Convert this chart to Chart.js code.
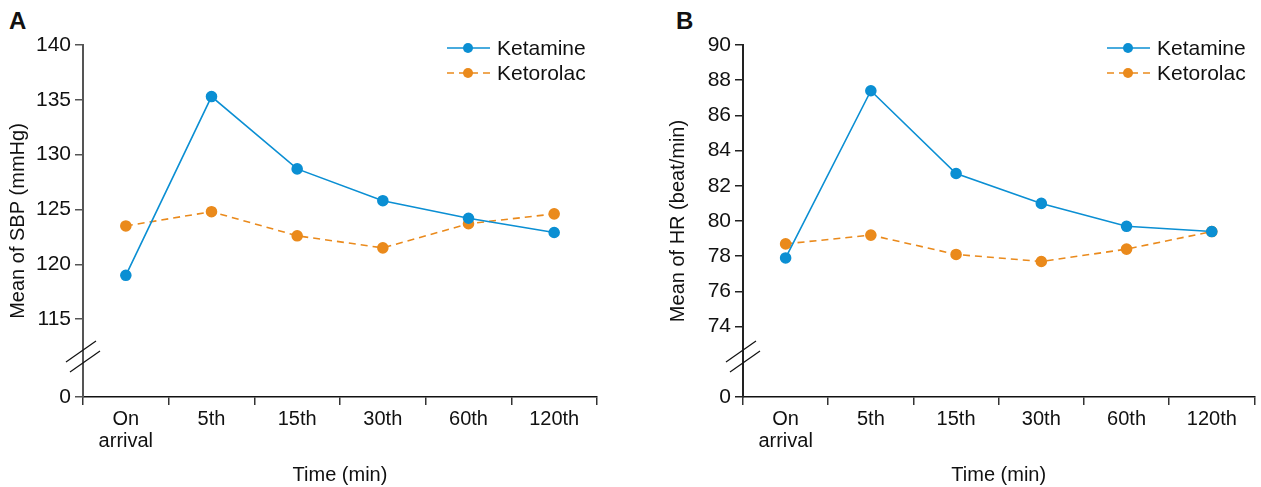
<!DOCTYPE html>
<html>
<head>
<meta charset="utf-8">
<script src="https://cdn.jsdelivr.net/npm/chart.js@4.4.1/dist/chart.umd.min.js"></script>
<style>
  body { margin: 0; background: #fff; width: 1261px; height: 487px; overflow: hidden; position: relative; }
  .panel { position: absolute; top: 0; height: 487px; }
  .letter { position: absolute; font: bold 24px "Liberation Sans", Arial, sans-serif; color: #111; }
</style>
</head>
<body>
<div class="letter" style="left:9px; top:7px;">A</div>
<div class="letter" style="left:676px; top:7px;">B</div>
<div class="panel" style="left:0; width:630px;"><canvas id="sbpChart"></canvas></div>
<div class="panel" style="left:660px; width:601px;"><canvas id="hrChart"></canvas></div>
<script>
const timePoints = [['On', 'arrival'], '5th', '15th', '30th', '60th', '120th'];

// panel A - systolic blood pressure
const sbpKetamine = [119.0, 135.3, 128.7, 125.8, 124.2, 122.9];
const sbpKetorolac = [123.5, 124.8, 122.6, 121.5, 123.7, 124.6];
const sbpTicks = [115, 120, 125, 130, 135, 140];

// panel B - heart rate
const hrKetamine = [77.9, 87.4, 82.7, 81.0, 79.7, 79.4];
const hrKetorolac = [78.7, 79.2, 78.1, 77.7, 78.4, 79.4];
const hrTicks = [74, 76, 78, 80, 82, 84, 86, 88, 90];

const blue = '#0b8fd3';
const orange = '#ea8a1c';
const font = "'Liberation Sans', Arial, sans-serif";

// custom legend + axis break drawn on top
const extras = {
    id: 'extras',
    afterDraw(chart) {
        const ctx = chart.ctx;
        const area = chart.chartArea;
        const o = chart.options.plugins.extras;
        ctx.save();
        // axis break marks
        const ax = area.left;
        ctx.strokeStyle = '#111';
        ctx.lineWidth = 1.2;
        [0, 10].forEach(d => {
            ctx.beginPath();
            ctx.moveTo(ax - 17 + d * 0.4, o.breakY + 10 + d);
            ctx.lineTo(ax + 13 + d * 0.4, o.breakY - 11 + d);
            ctx.stroke();
        });
        // legend
        const items = [
            { label: 'Ketamine', color: blue, dash: [] },
            { label: 'Ketorolac', color: orange, dash: [7, 5] }
        ];
        items.forEach((it, i) => {
            const y = 48 + i * 25;
            const x0 = o.legendX;
            ctx.strokeStyle = it.color;
            ctx.lineWidth = 1.6;
            ctx.setLineDash(it.dash);
            ctx.beginPath();
            ctx.moveTo(x0, y);
            ctx.lineTo(x0 + 43, y);
            ctx.stroke();
            ctx.setLineDash([]);
            ctx.fillStyle = it.color;
            ctx.beginPath();
            ctx.arc(x0 + 21, y, 5, 0, Math.PI * 2);
            ctx.fill();
            ctx.fillStyle = '#111';
            ctx.font = '21px ' + font;
            ctx.textBaseline = 'middle';
            ctx.fillText(it.label, x0 + 50, y + 1);
        });
        ctx.restore();
    }
};

function makeChart(id, ketamine, ketorolac, ticks, yMin, yTitle, padRight, axisColor, legendX) {
    const ctx = document.getElementById(id).getContext('2d');
    return new Chart(ctx, {
        type: 'line',
        data: {
            labels: timePoints,
            datasets: [{
                label: 'Ketamine',
                data: ketamine,
                borderColor: blue,
                backgroundColor: blue,
                borderWidth: 1.6,
                pointRadius: 5,
                pointHoverRadius: 5,
                tension: 0
            }, {
                label: 'Ketorolac',
                data: ketorolac,
                borderColor: orange,
                backgroundColor: orange,
                borderWidth: 1.6,
                borderDash: [7, 5],
                pointRadius: 5,
                pointHoverRadius: 5,
                tension: 0
            }]
        },
        options: {
            responsive: true,
            maintainAspectRatio: false,
            animation: false,
            layout: { padding: { top: 45, right: padRight, left: 0, bottom: 0 } },
            plugins: {
                legend: { display: false },
                tooltip: { enabled: false },
                extras: { breakY: 352, legendX: legendX }
            },
            scales: {
                x: {
                    offset: true,
                    grid: { offset: true, drawOnChartArea: false, tickLength: 8, color: '#333', lineWidth: 1.5 },
                    border: { color: '#111', width: 1.5 },
                    ticks: { color: '#111', font: { family: font, size: 20, lineHeight: 1.1 }, padding: 3, maxRotation: 0, autoSkip: false },
                    title: { display: true, text: 'Time (min)', color: '#111', font: { family: font, size: 20 }, padding: { top: 4, bottom: 0 } },
                    afterFit(scale) { scale.height = 90; }
                },
                y: {
                    min: yMin,
                    max: ticks[ticks.length - 1],
                    afterBuildTicks(scale) {
                        scale.ticks = [yMin].concat(ticks).map(v => ({ value: v }));
                    },
                    grid: { drawOnChartArea: false, tickLength: 8, color: axisColor, lineWidth: 1.5 },
                    border: { color: axisColor, width: 2 },
                    ticks: {
                        color: '#111',
                        font: { family: font, size: 21 },
                        padding: 4,
                        callback: function (value) { return value === yMin ? '0' : value; }
                    },
                    title: { display: true, text: yTitle, color: '#111', font: { family: font, size: 20 }, padding: { top: 6, bottom: 0 } },
                    afterFit(scale) { scale.width = 83; }
                }
            }
        },
        plugins: [extras]
    });
}

makeChart('sbpChart', sbpKetamine, sbpKetorolac, sbpTicks, 107.9, 'Mean of SBP (mmHg)', 33, '#555', 447);
makeChart('hrChart', hrKetamine, hrKetorolac, hrTicks, 70, 'Mean of HR (beat/min)', 3, '#222', 447);
</script>
</body>
</html>
